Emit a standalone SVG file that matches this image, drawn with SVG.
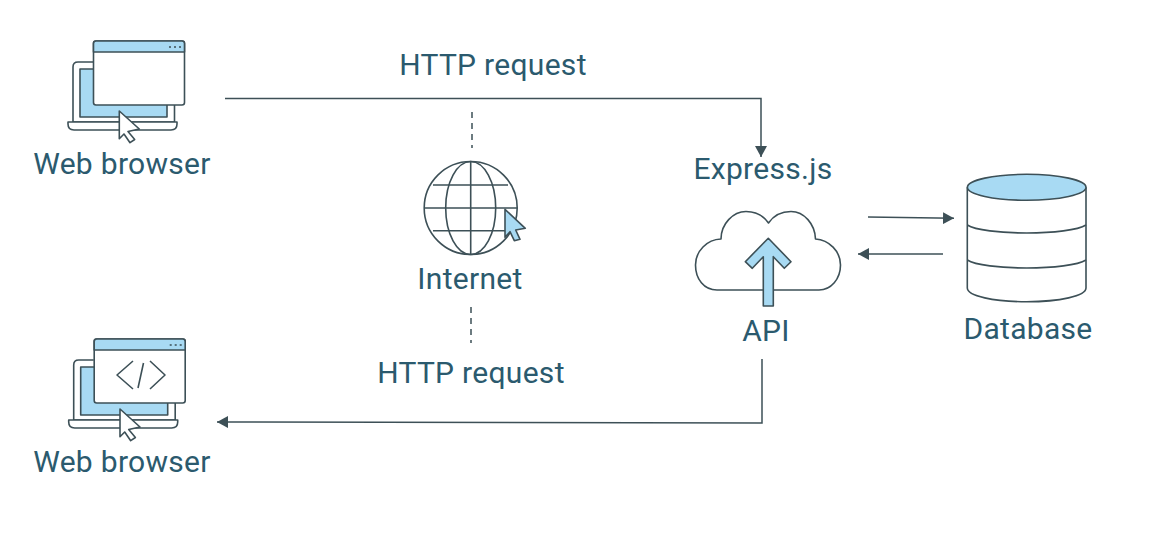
<svg xmlns="http://www.w3.org/2000/svg" width="1163" height="542" viewBox="0 0 1163 542">
<style>
.l{font-family:Roboto,"Liberation Sans",sans-serif;font-size:30px;fill:#2b5a6e;letter-spacing:.3px}
.s{fill:none;stroke:#3d5057;stroke-width:1.6;stroke-linejoin:round}
.w{fill:#fff;stroke:#3d5057;stroke-width:1.6;stroke-linejoin:round}
.b{fill:#a8daf3;stroke:#3d5057;stroke-width:1.6;stroke-linejoin:round}
.c{fill:none;stroke:#3d5057;stroke-width:1.5}
</style>
<defs>
<marker id="a" markerUnits="userSpaceOnUse" markerWidth="12" markerHeight="12" refX="11" refY="6" orient="auto"><path d="M0 0L11 6L0 12Z" fill="#3d5057"/></marker>
<g id="laptop">
<path class="w" d="M93 62H78Q73 62 73 67V122H174.500V100"/>
<path class="b" d="M80 69H167V117H80Z"/>
<path class="w" d="M68 122H177V124Q177 130 171 130H74Q68 130 68 124Z"/>
<rect class="w" x="93.500" y="41" width="91" height="64" rx="2.500"/>
<path class="b" d="M93.500 52V43.500Q93.500 41 96 41H182Q184.500 41 184.500 43.500V52Z"/>
<path d="M169 47h2M174 47h2M179 47h2" stroke="#3d5057" stroke-width="1.500"/>
<path class="w" d="M119.300 111L139.300 129L128 131.500L134.700 139.500L130 142.700L124 134L119.300 138.700Z"/>
</g>
</defs>
<g id="connectors">
<path class="c" d="M225 98.500H761V157" marker-end="url(#a)"/>
<path class="c" d="M762 359V423L217 422" marker-end="url(#a)"/>
<path class="c" d="M868 217L954 218.300" marker-end="url(#a)"/>
<path class="c" d="M943 254H858" marker-end="url(#a)"/>
<path class="c" d="M472 112V148" stroke-dasharray="6 5"/>
<path class="c" d="M471 307V343" stroke-dasharray="6 5"/>
</g>
<g id="browser1">
<use href="#laptop"/>
<text class="l" x="122" y="174" text-anchor="middle">Web browser</text>
</g>
<g id="browser2">
<use href="#laptop" x="0.700" y="298"/>
<path class="s" d="M133 361L117 375L133 389M143.500 363L138 388M150 361L165 375L150 389"/>
<text class="l" x="122" y="472" text-anchor="middle">Web browser</text>
</g>
<g id="internet">
<circle class="s" cx="470.700" cy="208" r="46.500"/>
<ellipse class="s" cx="470.700" cy="208" rx="25" ry="46.500"/>
<path class="s" d="M470.700 161.500V254.500M433 185H508M424.200 208H517M433 230.700H508"/>
<path class="b" d="M505 209.300L525.300 228.300L515.700 230L520 239.300L514.300 240.700L510 231.700L505 237.300Z"/>
<text class="l" x="470" y="289" text-anchor="middle">Internet</text>
</g>
<g id="api">
<path class="s" d="M717 290C704 290 695.500 279 695.500 265C695.500 251 707 239.500 721 239C721 224 733 211.500 746 211.500C755 211.500 763 215 768.500 223C774 215 782 211.500 791 211.500C804 211.500 815 224 815.500 239C829 240 840.500 251 840.500 265C840.500 279 831 290 819 290Z"/>
<path class="b" d="M768.300 238.300L791 261.700L784.300 268.300L773.300 256.700V306H763.300V256.700L752.300 268.300L745.300 261.700Z"/>
<text class="l" x="766" y="341" text-anchor="middle">API</text>
</g>
<g id="database">
<path class="w" d="M967.300 187.300V288C967.300 296 994 301.700 1026.700 301.700S1086 296 1086 288V187.300"/>
<ellipse class="b" cx="1026.700" cy="187.300" rx="59.300" ry="13"/>
<path class="s" d="M967.300 225C975 230 1000 233 1026.700 233S1078 230 1086 225M967.300 260C975 265 1000 268 1026.700 268S1078 265 1086 260"/>
<text class="l" x="1028" y="339" text-anchor="middle">Database</text>
</g>
<g id="labels">
<text class="l" x="493" y="75" text-anchor="middle">HTTP request</text>
<text class="l" x="471" y="383" text-anchor="middle">HTTP request</text>
<text class="l" x="763" y="179" text-anchor="middle">Express.js</text>
</g>
</svg>
